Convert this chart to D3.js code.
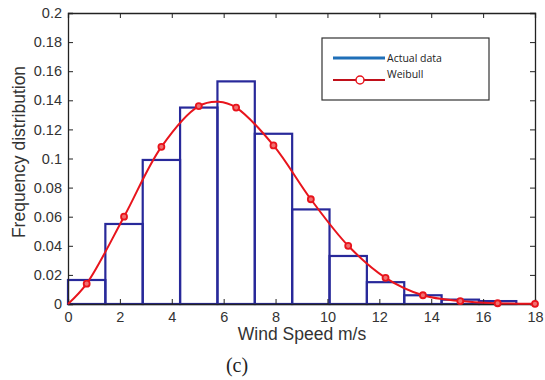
<!DOCTYPE html>
<html>
<head>
<meta charset="utf-8">
<script src="https://cdn.jsdelivr.net/npm/d3@7"></script>
<style>
  body { margin: 0; background: #fff; }
  svg { display: block; }
</style>
</head>
<body>
<div id="chart"></div>
<script>
// histogram bins (m/s) and relative frequencies
var binEdges = [0, 1.44, 2.88, 4.32, 5.76, 7.2, 8.64, 10.08, 11.52, 12.96, 14.4, 15.84, 17.28];
var binFreq = [0.0165, 0.055, 0.099, 0.135, 0.153, 0.117, 0.065, 0.033, 0.015, 0.006, 0.003, 0.002];

var weibullX = [0, 0.72, 2.16, 3.6, 5.04, 5.8, 6.48, 7.92, 9.36, 10.8, 12.24, 13.68, 15.12, 16.56, 18];
var weibullY = [0, 0.014, 0.060, 0.108, 0.136, 0.139, 0.135, 0.109, 0.072, 0.040, 0.018, 0.006, 0.002, 0.0005, 0.0001];
var markerX = [0.72, 2.16, 3.6, 5.04, 6.48, 7.92, 9.36, 10.8, 12.24, 13.68, 15.12, 16.56, 18];

var xTicks = [0, 2, 4, 6, 8, 10, 12, 14, 16, 18];
var yTicks = [0, 0.02, 0.04, 0.06, 0.08, 0.1, 0.12, 0.14, 0.16, 0.18, 0.2];

var width = 545, height = 380;
var margin = {top: 13, right: 10, bottom: 76, left: 68};
var w = width - margin.left - margin.right,
    h = height - margin.top - margin.bottom;

var svg = d3.select("#chart").append("svg")
    .attr("width", width)
    .attr("height", height)
    .style("font-family", "'Liberation Sans', Arial, sans-serif");

var g = svg.append("g")
    .attr("transform", "translate(" + margin.left + "," + margin.top + ")");

var x = d3.scaleLinear().domain([0, 18]).range([0, w]);
var y = d3.scaleLinear().domain([0, 0.2]).range([h, 0]);

var bins = binFreq.map(function(f, i) {
  return {x0: binEdges[i], x1: binEdges[i + 1], f: f};
});

g.selectAll(".bar").data(bins).enter().append("rect")
    .attr("class", "bar")
    .attr("x", function(d) { return x(d.x0); })
    .attr("width", function(d) { return x(d.x1) - x(d.x0); })
    .attr("y", function(d) { return y(d.f); })
    .attr("height", function(d) { return h - y(d.f); })
    .style("fill", "none")
    .style("stroke", "#28299a")
    .style("stroke-width", 2.2);

// axes (box style, ticks inward)
function fmt(d) { return d === 0 ? "0" : d3.format("~g")(d); }

var xAxis = g.append("g").attr("transform", "translate(0," + h + ")")
    .call(d3.axisBottom(x).tickValues(xTicks).tickSize(-5).tickPadding(8).tickFormat(fmt));
var yAxis = g.append("g")
    .call(d3.axisLeft(y).tickValues(yTicks).tickSize(-5).tickPadding(6).tickFormat(fmt));
var xTop = g.append("g")
    .call(d3.axisTop(x).tickValues(xTicks).tickSize(-5).tickFormat(""));
var yRight = g.append("g").attr("transform", "translate(" + w + ",0)")
    .call(d3.axisRight(y).tickValues(yTicks).tickSize(-5).tickFormat(""));

[xAxis, yAxis, xTop, yRight].forEach(function(a) {
  a.select(".domain").style("stroke", "#222").style("stroke-width", 1.3);
  a.selectAll(".tick line").style("stroke", "#222");
  a.selectAll("text").style("font-size", "14.5px").style("fill", "#333").style("font-family", "'Liberation Sans', Arial, sans-serif");
});

// weibull curve
var pts = weibullX.map(function(v, i) { return [v, weibullY[i]]; });
var line = d3.line()
    .x(function(d) { return x(d[0]); })
    .y(function(d) { return y(d[1]); })
    .curve(d3.curveCatmullRom);

g.append("path").datum(pts)
    .attr("d", line)
    .style("fill", "none")
    .style("stroke", "#e8141c")
    .style("stroke-width", 2);

var marks = pts.filter(function(d) { return markerX.indexOf(d[0]) >= 0; });
g.selectAll(".mk").data(marks).enter().append("circle")
    .attr("class", "mk")
    .attr("cx", function(d) { return x(d[0]); })
    .attr("cy", function(d) { return y(d[1]); })
    .attr("r", 3)
    .style("fill", "#f07070")
    .style("stroke", "#e8141c")
    .style("stroke-width", 1.8);

// legend
var lg = svg.append("g").attr("transform", "translate(322,38)");
lg.append("rect").attr("width", 167).attr("height", 62)
    .style("fill", "#fff").style("stroke", "#333").style("stroke-width", 1.2);
lg.append("line").attr("x1", 11).attr("x2", 63).attr("y1", 20).attr("y2", 20)
    .style("stroke", "#1f6fb8").style("stroke-width", 3);
lg.append("text").attr("x", 65).attr("y", 24).text("Actual data")
    .style("font-family", "'Open Sans', sans-serif")
    .style("font-size", "10.5px").style("fill", "#222");
lg.append("line").attr("x1", 11).attr("x2", 63).attr("y1", 42).attr("y2", 42)
    .style("stroke", "#c0101a").style("stroke-width", 2.2);
lg.append("circle").attr("cx", 38).attr("cy", 42).attr("r", 4)
    .style("fill", "#fff").style("stroke", "#e8141c").style("stroke-width", 1.5);
lg.append("text").attr("x", 65).attr("y", 40).text("Weibull")
    .style("font-family", "'Open Sans', sans-serif")
    .style("font-size", "10.5px").style("fill", "#222");

// labels
svg.append("text")
    .attr("x", 302).attr("y", 340)
    .attr("text-anchor", "middle")
    .style("font-size", "17.5px").style("fill", "#333")
    .text("Wind Speed m/s");

svg.append("text")
    .attr("transform", "translate(25,152) rotate(-90)")
    .attr("text-anchor", "middle")
    .style("font-size", "17.5px").style("fill", "#333")
    .text("Frequency distribution");

svg.append("text")
    .attr("x", 237).attr("y", 372)
    .attr("text-anchor", "middle")
    .style("font-family", "'Liberation Serif', serif")
    .style("font-size", "20px").style("fill", "#222")
    .text("(c)");
</script>
</body>
</html>
